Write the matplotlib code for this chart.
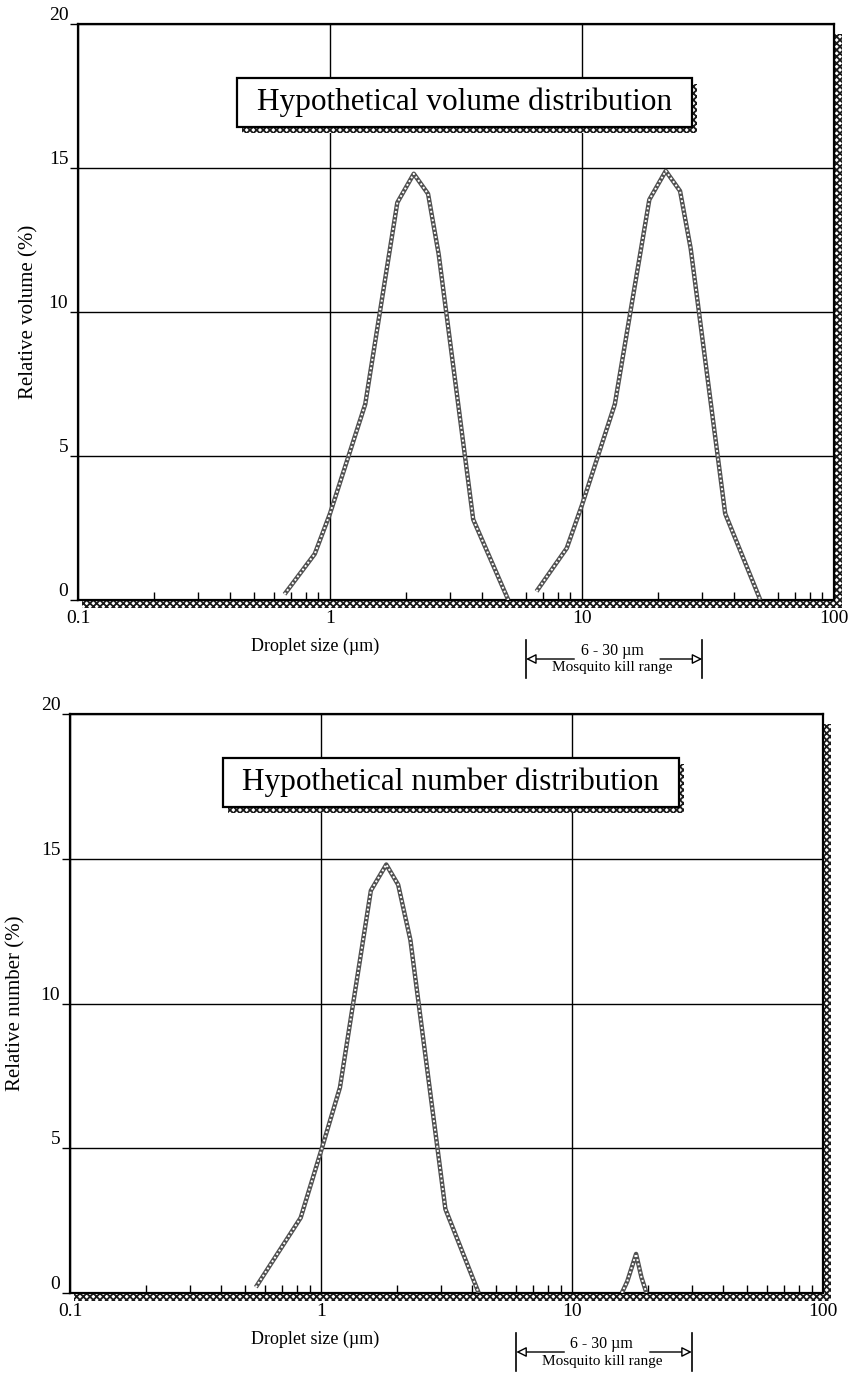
import numpy as np
import matplotlib
matplotlib.use('Agg')
import matplotlib.pyplot as plt
import matplotlib.transforms as mtransforms
from matplotlib.patches import Rectangle

plt.rcParams['font.family'] = 'serif'
plt.rcParams['font.serif'] = ['Liberation Serif', 'DejaVu Serif']
plt.rcParams['hatch.linewidth'] = 1.3
plt.rcParams['hatch.color'] = '#1a1a1a'

# Valores: distribucion en volumen (dos picos)
vol_size_1 = [0.66, 0.87, 1.0, 1.38, 1.85, 2.15, 2.45, 2.7, 3.7, 5.1]
vol_pct_1 = [0.2, 1.6, 3.0, 6.8, 13.8, 14.8, 14.1, 12.0, 2.8, 0.0]
vol_size_2 = [6.6, 8.7, 10.0, 13.5, 18.5, 21.5, 24.5, 27.0, 37.0, 51.0]
vol_pct_2 = [0.3, 1.8, 3.3, 6.8, 13.9, 14.9, 14.2, 12.2, 3.0, 0.0]

# Distribucion en numero (pico grande + pico pequeno)
num_size_1 = [0.55, 0.83, 1.0, 1.19, 1.58, 1.82, 2.03, 2.27, 3.13, 4.25]
num_pct_1 = [0.2, 2.6, 4.9, 7.1, 13.9, 14.8, 14.1, 12.2, 2.9, 0.0]
num_size_2 = [15.8, 16.6, 18.0, 18.9, 19.8]
num_pct_2 = [0.0, 0.4, 1.35, 0.55, 0.0]

y_ticks = [0, 5, 10, 15, 20]
x_ticks = [0.1, 1, 10, 100]
x_tick_labels = ['0.1', '1', '10', '100']
kill_range = (6, 30)

W, H = 849, 1378
fig = plt.figure(figsize=(W / 100, H / 100), dpi=100)


def px_axes(left, top, right, bottom):
    # convierte pixeles de la imagen a fracciones de la figura
    return [left / W, 1 - bottom / H, (right - left) / W, (bottom - top) / H]


def curva(ax, x, y):
    # linea "rayada" como en el original
    ax.plot(x, y, color='#505050', lw=3.2, zorder=4, solid_capstyle='butt')
    ax.plot(x, y, color='white', lw=1.4, zorder=5, dashes=(1.0, 1.2))


def hacer_panel(rect_px, titulo, ylabel, ylabel_x, series, caja_px):
    left, top, right, bottom = rect_px
    hpx = bottom - top
    wpx = right - left
    ax = fig.add_axes(px_axes(*rect_px))

    # sombra del marco
    sh = 8
    fig.add_artist(Rectangle(((left + 4) / W, 1 - (bottom + sh) / H), (wpx + sh - 4) / W, sh / H,
                             transform=fig.transFigure, facecolor='white', hatch='xxxxx',
                             lw=0, zorder=-1))
    fig.add_artist(Rectangle((right / W, 1 - (bottom + sh) / H), sh / W, (hpx - 2) / H,
                             transform=fig.transFigure, facecolor='white', hatch='xxxxx',
                             lw=0, zorder=-1))

    ax.set_xscale('log')
    ax.set_xlim(0.1, 100)
    ax.set_ylim(0, 20)
    for s in ax.spines.values():
        s.set_linewidth(1.6)

    ax.set_yticks(y_ticks)
    ax.set_yticklabels([str(t) for t in y_ticks], fontsize=14)
    for lab in ax.get_yticklabels():
        lab.set_verticalalignment('bottom')
    ax.tick_params(axis='y', direction='out', length=6, width=1, pad=1)

    ax.set_xticks(x_ticks)
    ax.set_xticklabels(x_tick_labels, fontsize=14)
    ax.tick_params(axis='x', which='major', length=0, pad=7)
    ax.tick_params(axis='x', which='minor', direction='in', length=6, width=1)

    ax.grid(True, which='major', color='black', lw=1.0)
    ax.set_axisbelow(True)

    for x, y in series:
        curva(ax, x, y)

    # cuadro del titulo con sombra
    bl, bt, br, bb = caja_px
    fx0 = (bl - left) / wpx
    fw = (br - bl) / wpx
    fy0 = (bottom - bb) / hpx
    fh = (bb - bt) / hpx
    ax.add_patch(Rectangle((fx0 + 5 / wpx, fy0 - 6 / hpx), fw, fh, transform=ax.transAxes,
                           facecolor='white', hatch='xxxxx', lw=0, zorder=6))
    ax.add_patch(Rectangle((fx0, fy0), fw, fh, transform=ax.transAxes,
                           facecolor='white', edgecolor='black', lw=1.6, zorder=7))
    ax.text(fx0 + fw / 2, fy0 + fh / 2, titulo, transform=ax.transAxes, ha='center',
            va='center', fontsize=22.5, zorder=8)

    # etiquetas de ejes
    ax.text((315 - left) / wpx, -46 / hpx, 'Droplet size (\u00b5m)', transform=ax.transAxes,
            ha='center', va='center', fontsize=13)
    ax.text((ylabel_x - left) / wpx, 0.5, ylabel, transform=ax.transAxes, rotation=90,
            ha='center', va='center', fontsize=15)

    # rango de mosquitos (x en datos, y en pixeles bajo el eje)
    tr = mtransforms.blended_transform_factory(ax.transData, ax.transAxes)
    lo, hi = kill_range
    y_top, y_bot = -40 / hpx, -78 / hpx
    y_arr = -59 / hpx
    for xv in (lo, hi):
        ax.plot([xv, xv], [y_top, y_bot], transform=tr, color='black', lw=1.2, clip_on=False)
    ax.annotate('', xy=(lo, y_arr), xytext=(lo * 10 ** (48 / 251), y_arr), xycoords=tr,
                textcoords=tr, arrowprops=dict(arrowstyle='-|>', fc='white', ec='black',
                                               lw=1.0, mutation_scale=15, shrinkA=0, shrinkB=0))
    ax.annotate('', xy=(hi, y_arr), xytext=(hi / 10 ** (42 / 251), y_arr), xycoords=tr,
                textcoords=tr, arrowprops=dict(arrowstyle='-|>', fc='white', ec='black',
                                               lw=1.0, mutation_scale=15, shrinkA=0, shrinkB=0))
    xm = np.sqrt(lo * hi) * 0.98
    ax.text(xm, -51 / hpx, '6 - 30 \u00b5m', transform=tr, ha='center', va='center',
            fontsize=11.5)
    ax.text(xm, -68 / hpx, 'Mosquito kill range', transform=tr, ha='center', va='center',
            fontsize=11)
    return ax


hacer_panel((78, 24, 834, 600), 'Hypothetical volume distribution', 'Relative volume (%)', 29,
            [(vol_size_1, vol_pct_1), (vol_size_2, vol_pct_2)], (237, 78, 692, 127))
hacer_panel((70, 714, 823, 1293), 'Hypothetical number distribution', 'Relative number (%)', 16,
            [(num_size_1, num_pct_1), (num_size_2, num_pct_2)], (223, 758, 679, 807))

fig.savefig('out.png', dpi=100)
